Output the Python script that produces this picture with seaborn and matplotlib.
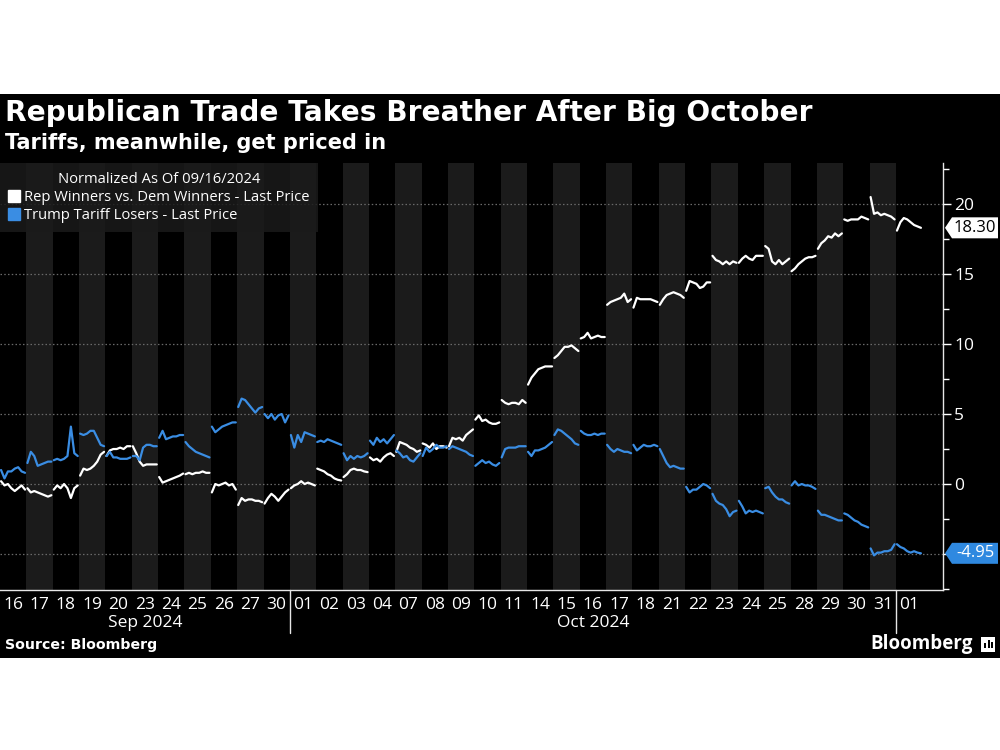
import numpy as np
import pandas as pd
import matplotlib
matplotlib.use("Agg")
import matplotlib.pyplot as plt
import matplotlib.transforms as mtransforms
from matplotlib.patches import Polygon, Rectangle
from matplotlib.lines import Line2D
import seaborn as sns

# ---------------- data ----------------
day_labels = ["16", "17", "18", "19", "20", "23", "24", "25", "26", "27", "30",
              "01", "02", "03", "04", "07", "08", "09", "10", "11", "14", "15",
              "16", "17", "18", "21", "22", "23", "24", "25", "28", "29", "30",
              "31", "01"]
month_labels = ["Sep 2024", "Oct 2024"]
month_spans = [(0, 11), (11, 34)]
month_breaks = [11, 34]

series_names = ["Rep Winners vs. Dem Winners - Last Price",
                "Trump Tariff Losers - Last Price"]

# intraday samples (8 per trading day)
rep_winners = [
    [0.2, -0.1, 0.0, -0.3, -0.5, -0.3, -0.1, -0.4],
    [-0.3, -0.6, -0.5, -0.6, -0.7, -0.8, -0.9, -0.8],
    [-0.4, -0.1, -0.3, 0.0, -0.3, -1.0, -0.3, -0.1],
    [0.6, 1.1, 1.0, 1.1, 1.3, 1.6, 2.1, 2.3],
    [2.0, 2.4, 2.5, 2.5, 2.6, 2.5, 2.7, 2.7],
    [2.7, 2.2, 1.6, 1.3, 1.4, 1.4, 1.4, 1.4],
    [0.5, 0.1, 0.2, 0.3, 0.4, 0.5, 0.6, 0.75],
    [0.7, 0.8, 0.7, 0.8, 0.8, 0.9, 0.8, 0.8],
    [-0.6, 0.0, -0.1, 0.0, 0.1, -0.1, 0.0, -0.4],
    [-1.5, -1.0, -1.2, -1.1, -1.1, -1.2, -1.2, -1.3],
    [-1.4, -1.0, -0.7, -0.9, -1.2, -0.9, -0.6, -0.4],
    [-0.3, -0.1, 0.0, 0.2, 0.0, 0.1, 0.0, -0.1],
    [1.1, 1.0, 0.9, 0.7, 0.6, 0.4, 0.3, 0.25],
    [0.5, 0.7, 1.0, 1.1, 1.0, 1.0, 0.9, 0.85],
    [1.9, 1.7, 1.8, 1.6, 1.9, 2.1, 2.2, 2.0],
    [2.3, 3.0, 2.9, 2.8, 2.6, 2.5, 2.3, 2.4],
    [2.9, 2.8, 2.6, 2.9, 2.5, 2.7, 2.7, 2.6],
    [2.7, 3.3, 3.2, 3.3, 3.1, 3.5, 3.7, 3.9],
    [4.6, 4.9, 4.5, 4.6, 4.4, 4.3, 4.3, 4.4],
    [6.0, 5.8, 5.7, 5.8, 5.8, 5.7, 6.0, 5.8],
    [7.1, 7.6, 7.9, 8.2, 8.3, 8.4, 8.4, 8.4],
    [9.0, 9.2, 9.5, 9.8, 9.8, 9.9, 9.7, 9.5],
    [10.4, 10.5, 10.8, 10.4, 10.5, 10.6, 10.5, 10.5],
    [12.8, 13.0, 13.1, 13.2, 13.3, 13.6, 13.0, 13.2],
    [12.6, 13.3, 13.2, 13.2, 13.2, 13.2, 13.1, 13.0],
    [12.8, 13.2, 13.5, 13.6, 13.7, 13.6, 13.5, 13.3],
    [13.8, 14.5, 14.4, 14.3, 14.0, 14.1, 14.4, 14.4],
    [16.3, 16.0, 15.9, 15.7, 15.9, 15.7, 15.9, 15.8],
    [15.8, 16.1, 16.3, 16.1, 16.0, 16.3, 16.3, 16.3],
    [17.0, 16.8, 15.9, 15.7, 16.0, 15.7, 15.9, 16.1],
    [15.2, 15.4, 15.7, 15.9, 16.1, 16.2, 16.2, 16.3],
    [16.8, 17.2, 17.4, 17.7, 17.6, 17.9, 17.7, 17.9],
    [18.9, 18.8, 18.9, 18.9, 18.9, 19.1, 19.0, 18.9],
    [20.5, 19.3, 19.4, 19.2, 19.3, 19.2, 19.1, 18.9],
    [18.1, 18.7, 19.0, 18.9, 18.7, 18.5, 18.4, 18.3],
]

tariff_losers = [
    [1.0, 0.4, 0.9, 0.9, 1.1, 1.2, 0.9, 0.8],
    [1.5, 2.3, 2.0, 1.3, 1.4, 1.5, 1.6, 1.6],
    [1.7, 1.8, 1.7, 1.8, 2.0, 4.1, 2.2, 2.0],
    [3.6, 3.5, 3.6, 3.8, 3.8, 3.3, 2.8, 2.7],
    [2.0, 2.3, 1.9, 1.9, 1.8, 1.8, 1.8, 1.9],
    [2.0, 2.0, 1.7, 2.6, 2.8, 2.8, 2.7, 2.7],
    [3.3, 3.8, 3.2, 3.3, 3.4, 3.4, 3.5, 3.5],
    [3.0, 2.7, 2.5, 2.3, 2.2, 2.1, 2.0, 1.9],
    [4.1, 3.7, 3.9, 4.1, 4.2, 4.3, 4.4, 4.4],
    [5.5, 6.1, 6.0, 5.7, 5.4, 5.1, 5.4, 5.5],
    [5.0, 4.7, 5.0, 4.6, 4.9, 5.0, 4.4, 4.9],
    [3.5, 2.6, 3.5, 3.0, 3.7, 3.6, 3.5, 3.4],
    [3.0, 3.1, 3.0, 3.2, 3.1, 3.0, 2.9, 2.8],
    [2.2, 1.7, 2.0, 1.8, 2.0, 1.9, 2.0, 2.2],
    [3.1, 2.8, 3.3, 3.0, 3.2, 2.9, 3.2, 3.5],
    [2.4, 2.2, 1.9, 2.0, 1.7, 1.6, 1.9, 2.2],
    [2.0, 2.6, 2.3, 2.5, 2.8, 2.6, 2.6, 2.7],
    [2.5, 2.7, 2.6, 2.5, 2.4, 2.3, 2.1, 2.0],
    [1.3, 1.5, 1.7, 1.5, 1.6, 1.4, 1.3, 1.5],
    [1.9, 2.5, 2.6, 2.6, 2.6, 2.7, 2.7, 2.7],
    [2.3, 2.0, 2.4, 2.4, 2.5, 2.6, 2.8, 3.0],
    [3.5, 3.9, 3.8, 3.6, 3.4, 3.2, 2.9, 2.8],
    [3.8, 3.6, 3.5, 3.5, 3.6, 3.5, 3.6, 3.6],
    [2.8, 2.5, 2.3, 2.5, 2.4, 2.3, 2.3, 2.2],
    [2.8, 2.4, 2.6, 2.8, 2.7, 2.7, 2.8, 2.7],
    [2.5, 2.0, 1.5, 1.2, 1.3, 1.2, 1.1, 1.1],
    [-0.2, -0.6, -0.4, -0.4, -0.2, 0.0, -0.1, -0.3],
    [-0.7, -1.2, -1.4, -1.5, -1.8, -2.3, -2.0, -1.9],
    [-1.2, -1.6, -2.1, -1.9, -2.0, -1.9, -2.0, -2.1],
    [-0.3, -0.2, -0.6, -0.9, -1.1, -1.1, -1.3, -1.4],
    [-0.1, 0.2, -0.1, 0.0, -0.1, -0.1, -0.2, -0.35],
    [-1.9, -2.2, -2.2, -2.3, -2.4, -2.5, -2.6, -2.6],
    [-2.1, -2.2, -2.4, -2.6, -2.7, -2.9, -3.0, -3.1],
    [-4.6, -5.1, -4.9, -4.9, -4.8, -4.8, -4.7, -4.3],
    [-4.3, -4.5, -4.6, -4.8, -4.9, -4.8, -4.9, -4.95],
]

last_values = [18.30, -4.95]
y_major = [-5, 0, 5, 10, 15, 20]
y_major_labels = ["", "0", "5", "10", "15", "20"]   # -5 sits under the -4.95 tag
# position of each intraday sample within its trading-day slot
intraday_frac = [0.04, 0.17, 0.30, 0.43, 0.56, 0.69, 0.82, 0.95]

# ---------------- styling ----------------
WHITE = "#ffffff"
BLUE = "#3a8de3"
BOX_BLUE = "#2f89e0"
BAND = "#1b1b1b"
TICKFONT = ["Open Sans", "DejaVu Sans"]

rows = []
for name, data in zip(series_names, [rep_winners, tariff_losers]):
    for d, vals in enumerate(data):
        for f, v in zip(intraday_frac, vals):
            rows.append({"x": d + f, "value": v, "series": name, "day": d})
df = pd.DataFrame(rows)

sns.set_theme(style="dark")
plt.rcParams["font.family"] = ["DejaVu Sans"]

W, H = 1000, 750
fig = plt.figure(figsize=(10, 7.5), dpi=100, facecolor="white")

# black chart card (behind everything)
fig.patches.append(Rectangle((0, (H - 658) / H), 1, (658 - 94) / H,
                             transform=fig.transFigure, facecolor="black",
                             edgecolor="none", zorder=-10))

ax_left, ax_right = 0 / W, 943 / W
ax_top, ax_bot = 163, 590
ax = fig.add_axes([ax_left, (H - ax_bot) / H, ax_right - ax_left, (ax_bot - ax_top) / H])
ax.set_zorder(2)
ax.set_facecolor("black")

n_days = len(day_labels)
for i in range(n_days):
    if i % 2 == 1:
        ax.axvspan(i, i + 1, color=BAND, lw=0, zorder=0)

sns.lineplot(data=df, x="x", y="value", hue="series", units="day",
             estimator=None, sort=False,
             palette={series_names[0]: WHITE, series_names[1]: BLUE},
             linewidth=1.6, legend=False, ax=ax, zorder=3)

ax.set_xlim(0, 943 / 26.35)
ax.set_ylim(-7.57, 22.93)

# grid
ax.grid(False)
for yv in y_major:
    ax.axhline(yv, color="#6a6a6a", lw=0.9, ls=(0, (1.2, 1.8)), zorder=1)

# y axis on the right
ax.yaxis.tick_right()
ax.set_yticks(y_major)
ax.set_yticklabels(y_major_labels)
ax.set_yticks(np.arange(-7.5, 22.6, 2.5), minor=True)
ax.tick_params(axis="y", which="major", length=6, width=1, colors="white",
               pad=2, labelsize=12.5, right=True, left=False)
ax.tick_params(axis="y", which="minor", length=4, width=1, colors="white",
               right=True, left=False)
for lab in ax.get_yticklabels():
    lab.set_family(TICKFONT)

# x axis
ax.set_xticks(np.arange(n_days) + 0.5)
ax.set_xticklabels(day_labels)
ax.tick_params(axis="x", which="both", length=0, colors="white", pad=5, labelsize=12.5)
for lab in ax.get_xticklabels():
    lab.set_family(TICKFONT)
ax.set_xlabel("")
ax.set_ylabel("")

for s in ["left", "top"]:
    ax.spines[s].set_visible(False)
for s in ["right", "bottom"]:
    ax.spines[s].set_visible(True)
    ax.spines[s].set_color("#e6e6e6")
    ax.spines[s].set_linewidth(1.0)

blend = mtransforms.blended_transform_factory(ax.transData, ax.transAxes)
for b in month_breaks:
    ax.add_line(Line2D([b, b], [0, -43 / 427], transform=blend, color="#e6e6e6",
                       lw=1.0, clip_on=False))
for lab, (a, b) in zip(month_labels, month_spans):
    ax.text((a + b) / 2, -33 / 427, lab, transform=blend, ha="center", va="center",
            color="white", fontsize=12.5, family=TICKFONT)

# legend
handles = [Line2D([], [], marker="s", ls="none", color=c, markersize=8)
           for c in [WHITE, BLUE]]
leg = ax.legend(handles, series_names, title="Normalized As Of 09/16/2024",
                loc="upper left", bbox_to_anchor=(0, 1), borderaxespad=0,
                frameon=True, fancybox=False, facecolor="#1a1a1a", edgecolor="none",
                framealpha=0.85, title_fontsize=10.6,
                handlelength=0.7, handletextpad=0.3, borderpad=0.6,
                labelspacing=0.2, prop={"family": TICKFONT, "size": 10.6})
leg.get_title().set_color("white")
leg.get_title().set_family(TICKFONT)
for t in leg.get_texts():
    t.set_color("white")
leg.set_zorder(5)

# last-value tags
yblend = mtransforms.blended_transform_factory(ax.transAxes, ax.transData)
px_x = 1 / 943.0
px_y = 1 / 14.0
for val, face, tcol in zip(last_values, [WHITE, BOX_BLUE], ["black", "white"]):
    hh = 10.5 * px_y
    tip = 1 + 2 * px_x
    left = 1 + 9 * px_x
    right = 1 + 55 * px_x
    poly = Polygon([(tip, val), (left, val + hh), (right, val + hh),
                    (right, val - hh), (left, val - hh)], closed=True,
                   transform=yblend, facecolor=face, edgecolor="none",
                   clip_on=False, zorder=6)
    ax.add_patch(poly)
    ax.text((left + right) / 2, val, f"{val:.2f}", transform=yblend,
            ha="center", va="center", color=tcol, fontsize=12, family=TICKFONT,
            zorder=7, clip_on=False)

# titles
fig.text(5 / W, 1 - 113 / H, "Republican Trade Takes Breather After Big October",
         color="white", fontsize=20.2, fontweight="bold", va="center", ha="left")
fig.text(5 / W, 1 - 143 / H, "Tariffs, meanwhile, get priced in",
         color="white", fontsize=15, fontweight="bold", va="center", ha="left")
fig.text(5 / W, 1 - 645 / H, "Source: Bloomberg",
         color="white", fontsize=10.2, fontweight="bold", va="center", ha="left")
fig.text(973 / W, 1 - 644 / H, "Bloomberg", color="white", fontsize=13.5,
         fontweight="bold", va="center", ha="right", family=["Open Sans", "DejaVu Sans"])
# small logo square
fig.patches.append(Rectangle((981 / W, 1 - 652 / H), 14 / W, 15 / H,
                             transform=fig.transFigure, facecolor="white",
                             edgecolor="none", zorder=2))
for bx, bh in [(984, 5), (987.5, 8), (991, 6)]:
    fig.patches.append(Rectangle((bx / W, 1 - 648 / H), 2 / W, bh / H,
                                 transform=fig.transFigure, facecolor="black",
                                 edgecolor="none", zorder=3))

fig.savefig("out.png", dpi=100, facecolor="white")
